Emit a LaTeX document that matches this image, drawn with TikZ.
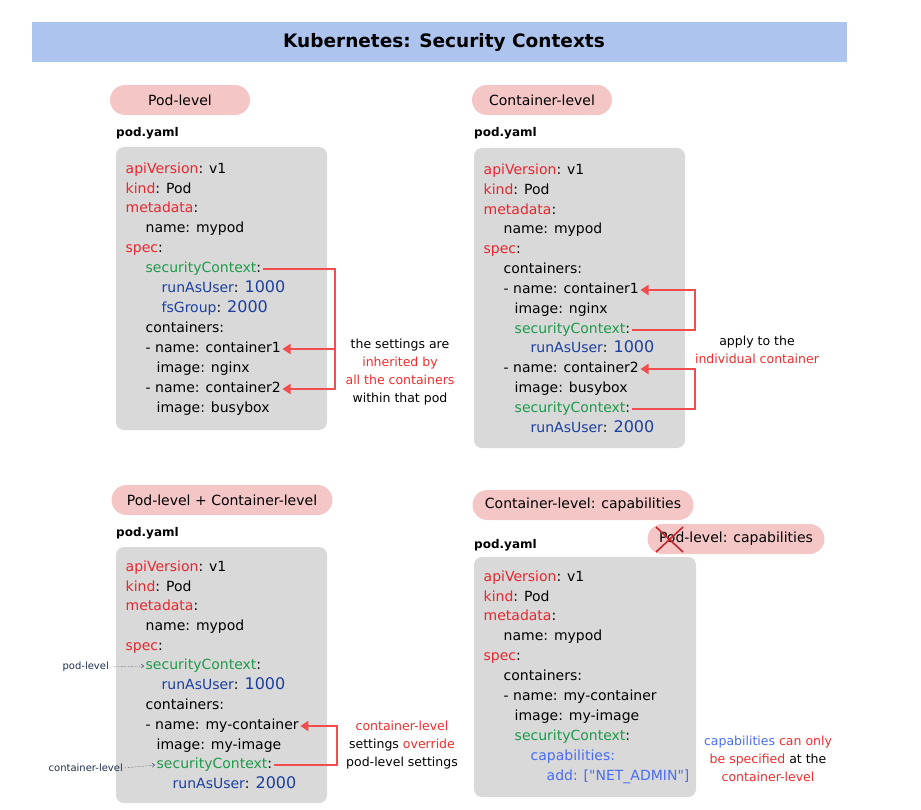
\documentclass[tikz,border=0pt]{standalone}
\usepackage{fontspec}
\setmainfont{DejaVu Sans}
\usepackage{xcolor}
\usetikzlibrary{arrows.meta,positioning,calc}

\definecolor{titlebg}{HTML}{ADC4EE}
\definecolor{pillpink}{HTML}{F5C6C6}
\definecolor{codebg}{HTML}{D9D9D9}
\definecolor{keyred}{HTML}{E8262E}
\definecolor{ctxgreen}{HTML}{1E9A4A}
\definecolor{valblue}{HTML}{1C3FA0}
\definecolor{capblue}{HTML}{4A6CF0}
\definecolor{arrowred}{HTML}{F24C4C}
\definecolor{notered}{HTML}{F02C2C}
\definecolor{hintnavy}{HTML}{1F2F4F}
\definecolor{crossred}{HTML}{C0282E}

\newcommand{\kw}[1]{\textcolor{keyred}{#1}}
\newcommand{\ctx}[1]{\textcolor{ctxgreen}{#1}}
\newcommand{\val}[1]{\textcolor{valblue}{#1}}
\newcommand{\bigval}[1]{\textcolor{valblue}{\fontsize{16}{16}\selectfont #1}}
\newcommand{\capb}[1]{\textcolor{capblue}{#1}}
\newcommand{\rd}[1]{\textcolor{notered}{#1}}

\begin{document}
\begin{tikzpicture}[x=1pt, y=-1pt,
    every node/.style={font=\fontsize{14}{16}\selectfont},
    code/.style={anchor=west, inner sep=1.5pt, text height=10pt, text depth=3pt},
    pill/.style={fill=pillpink, rounded corners=15pt, minimum height=30pt, font=\fontsize{14}{16}\selectfont},
    file/.style={anchor=west, inner sep=1pt, font=\bfseries\fontsize{12}{14}\selectfont},
    note/.style={align=center, font=\fontsize{12.5}{18}\selectfont},
    hint/.style={anchor=east, inner sep=1pt, text=hintnavy, font=\fontsize{10}{11}\selectfont},
    redarrow/.style={draw=arrowred, line width=2.4pt, -{Triangle[length=8pt,width=10pt]}},
    hintarrow/.style={draw=hintnavy, densely dotted, -{Straight Barb[length=2.5pt,width=4pt]}}]
    \useasboundingbox (0,0) rectangle (921,810);

    % title bar
    \fill[titlebg] (32,22) rectangle (847,62);
    \node[font=\bfseries\fontsize{18.5}{22}\selectfont] (title) at (444,42) {Kubernetes: Security Contexts};

    % Pod-level (top left)
    \node[pill, minimum width=140pt] (podpill) at (180,100) {Pod-level};
    \node[file] (podfile) at (115,133) {pod.yaml};
    \fill[codebg, rounded corners=8pt] (116,147) rectangle (327,430);
    \node[code] (pa1) at (124,170) {\kw{apiVersion}: v1};
    \node[code] (pa2) at (124,190) {\kw{kind}: Pod};
    \node[code] (pa3) at (124,209) {\kw{metadata}:};
    \node[code] (pa4) at (144,229) {name: mypod};
    \node[code] (pa5) at (124,249) {\kw{spec}:};
    \node[code] (psc) at (144,269) {\ctx{securityContext}:};
    \node[code] (pa7) at (160,289) {\val{runAsUser}: \bigval{1000}};
    \node[code] (pa8) at (160,309) {\val{fsGroup}: \bigval{2000}};
    \node[code] (pa9) at (144,329) {containers:};
    \node[code] (pc1) at (144,349) {- name: container1};
    \node[code] (pa11) at (155,369) {image: nginx};
    \node[code] (pc2) at (144,389) {- name: container2};
    \node[code] (pa13) at (155,409) {image: busybox};
    \coordinate (podbend) at (335,0);
    \draw[redarrow] (psc.east) -| (podbend |- pc2.east) -- (pc2.east);
    \draw[redarrow] (podbend |- pc1.east) -- (pc1.east);
    \node[note] (podnote) at (400,372) {the settings are\\\rd{inherited by}\\\rd{all the containers}\\within that pod};

    % Container-level (top right)
    \node[pill, minimum width=140pt] (ctrpill) at (542,100) {Container-level};
    \node[file] (ctrfile) at (473,133) {pod.yaml};
    \fill[codebg, rounded corners=8pt] (474,148) rectangle (685,448);
    \node[code] (ca1) at (482,171) {\kw{apiVersion}: v1};
    \node[code] (ca2) at (482,191) {\kw{kind}: Pod};
    \node[code] (ca3) at (482,211) {\kw{metadata}:};
    \node[code] (ca4) at (502,230) {name: mypod};
    \node[code] (ca5) at (482,250) {\kw{spec}:};
    \node[code] (ca6) at (502,270) {containers:};
    \node[code] (cc1) at (502,290) {- name: container1};
    \node[code] (ca8) at (513,310) {image: nginx};
    \node[code] (csc1) at (513,330) {\ctx{securityContext}:};
    \node[code] (ca10) at (529,349) {\val{runAsUser}: \bigval{1000}};
    \node[code] (cc2) at (502,369) {- name: container2};
    \node[code] (ca12) at (513,389) {image: busybox};
    \node[code] (csc2) at (513,409) {\ctx{securityContext}:};
    \node[code] (ca14) at (529,429) {\val{runAsUser}: \bigval{2000}};
    \coordinate (ctrbend) at (695,0);
    \draw[redarrow] (csc1.east) -| (ctrbend |- cc1.east) -- (cc1.east);
    \draw[redarrow] (csc2.east) -| (ctrbend |- cc2.east) -- (cc2.east);
    \node[note] (ctrnote) at (757,350) {apply to the\\\rd{individual container}};

    % Pod-level + Container-level (bottom left)
    \node[pill, minimum width=221pt] (bothpill) at (222,500) {Pod-level + Container-level};
    \node[file] (bothfile) at (115,533) {pod.yaml};
    \fill[codebg, rounded corners=8pt] (116,547) rectangle (327,803);
    \node[code] (ba1) at (124,568) {\kw{apiVersion}: v1};
    \node[code] (ba2) at (124,588) {\kw{kind}: Pod};
    \node[code] (ba3) at (124,607) {\kw{metadata}:};
    \node[code] (ba4) at (144,627) {name: mypod};
    \node[code] (ba5) at (124,647) {\kw{spec}:};
    \node[code] (bsc1) at (144,666) {\ctx{securityContext}:};
    \node[code] (ba7) at (160,686) {\val{runAsUser}: \bigval{1000}};
    \node[code] (ba8) at (144,706) {containers:};
    \node[code] (bname) at (144,726) {- name: my-container};
    \node[code] (ba10) at (155,746) {image: my-image};
    \node[code] (bsc2) at (155,765) {\ctx{securityContext}:};
    \node[code] (ba12) at (171,785) {\val{runAsUser}: \bigval{2000}};
    \node[hint] (podhint) at (110,667) {pod-level};
    \node[hint] (ctrhint) at (124,768) {container-level};
    \draw[hintarrow] (podhint.east) -- (bsc1.west);
    \draw[hintarrow] (ctrhint.east) -- (bsc2.west);
    \coordinate (bothbend) at (337,0);
    \draw[redarrow] (bsc2.east) -| (bothbend |- bname.east) -- (bname.east);
    \node[note] (bothnote) at (402,745) {\rd{container-level}\\settings \rd{override}\\pod-level settings};

    % Container-level: capabilities (bottom right)
    \node[pill, minimum width=221pt] (cappill) at (583,505) {Container-level: capabilities};
    \node[pill, minimum width=177pt] (nopill) at (736,539) {Pod-level: capabilities};
    \draw[crossred, line width=1.6pt] (656,527) -- (683,552) (656,552) -- (683,527);
    \node[file] (capfile) at (473,545) {pod.yaml};
    \fill[codebg, rounded corners=8pt] (474,557) rectangle (696,797);
    \node[code] (ka1) at (482,578) {\kw{apiVersion}: v1};
    \node[code] (ka2) at (482,598) {\kw{kind}: Pod};
    \node[code] (ka3) at (482,617) {\kw{metadata}:};
    \node[code] (ka4) at (502,637) {name: mypod};
    \node[code] (ka5) at (482,657) {\kw{spec}:};
    \node[code] (ka6) at (502,677) {containers:};
    \node[code] (ka7) at (502,697) {- name: my-container};
    \node[code] (ka8) at (513,717) {image: my-image};
    \node[code] (ksc) at (513,737) {\ctx{securityContext}:};
    \node[code] (kcap) at (529,757) {\capb{capabilities:}};
    \node[code] (kadd) at (545,777) {\capb{add: [\textquotedbl NET\_ADMIN\textquotedbl]}};
    \node[note] (capnote) at (768,759) {\capb{capabilities} \rd{can only}\\\rd{be specified} at the\\\rd{container-level}};
\end{tikzpicture}
\end{document}
